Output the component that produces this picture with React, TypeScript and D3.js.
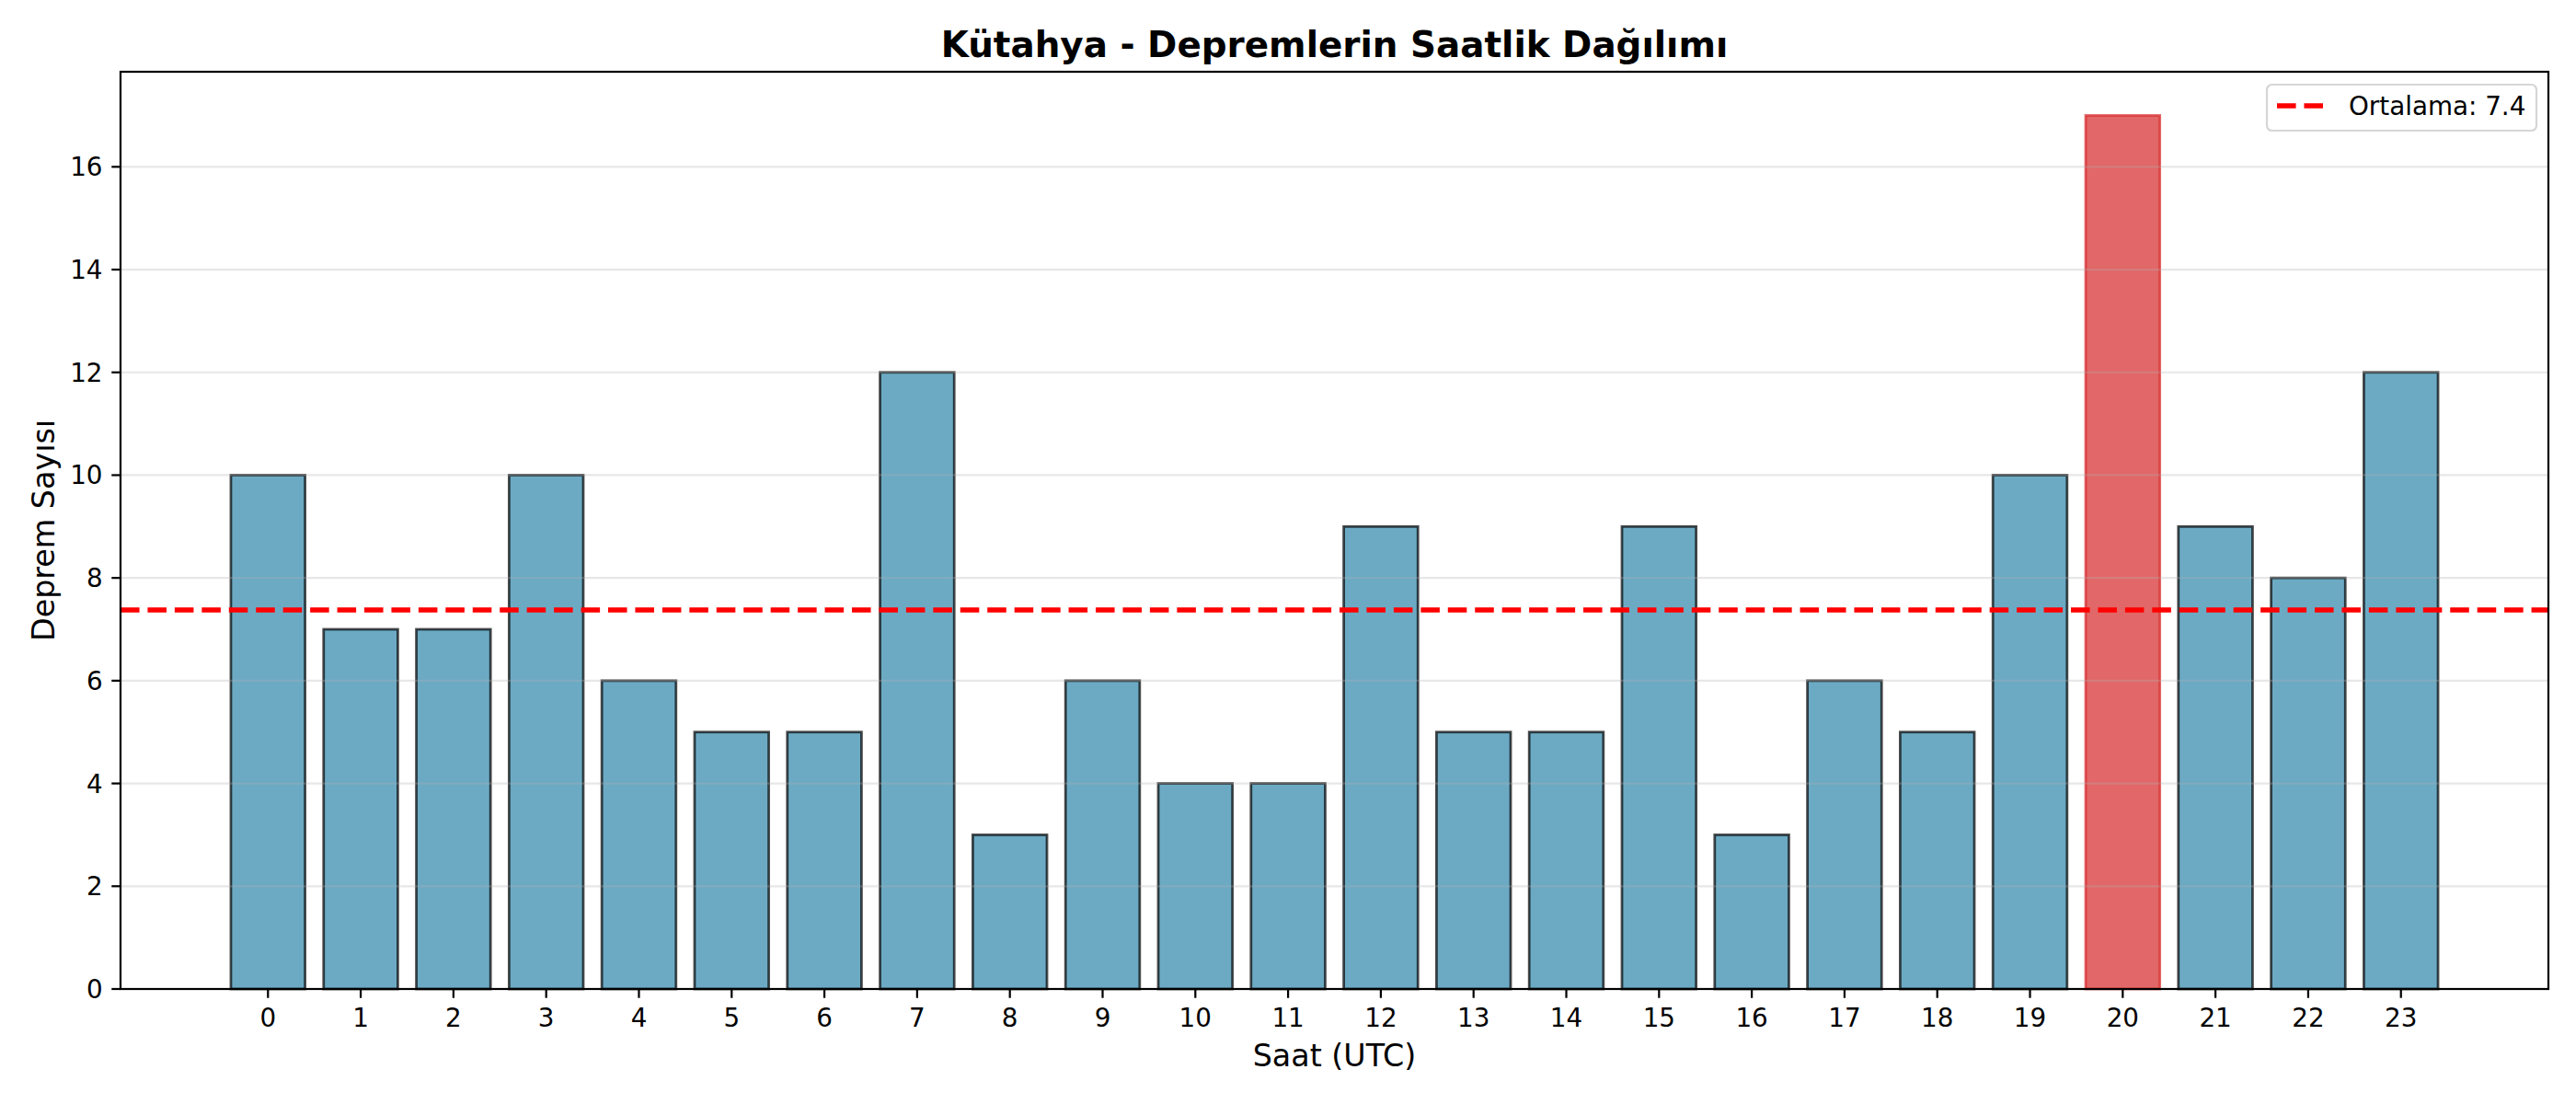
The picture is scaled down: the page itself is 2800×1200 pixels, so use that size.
import React from "react";
import * as d3 from "d3";

const hours: number[] = Array.from({ length: 24 }, (_, i) => i);
const counts: number[] = [10, 7, 7, 10, 6, 5, 5, 12, 3, 6, 4, 4, 9, 5, 5, 9, 3, 6, 5, 10, 17, 9, 8, 12];
const yTicks: number[] = [0, 2, 4, 6, 8, 10, 12, 14, 16];
const title = "Kütahya - Depremlerin Saatlik Dağılımı";
const xLabel = "Saat (UTC)";
const yLabel = "Deprem Sayısı";

const W = 2800;
const H = 1200;
const L = 131;
const R = 2770;
const T = 78;
const B = 1075;
const FONT = "DejaVu Sans, sans-serif";
const PT = 200 / 72;

export default function App() {
  const mean = d3.mean(counts) as number;
  const maxIdx = counts.indexOf(d3.max(counts) as number);
  const barW = 0.8;
  const x0 = -barW / 2;
  const x1 = hours.length - 1 + barW / 2;
  const mx = (x1 - x0) * 0.05;
  const x = d3.scaleLinear().domain([x0 - mx, x1 + mx]).range([L, R]);
  const ymax = (d3.max(counts) as number) * 1.05;
  const y = d3.scaleLinear().domain([0, ymax]).range([B, T]);
  const tickLen = 3.5 * PT;
  const tickPad = 3.5 * PT;
  const tickFs = 10 * PT;

  return (
    <svg width={W} height={H} style={{ position: "absolute", left: 0, top: 0 }} fontFamily={FONT}>
      <rect x={0} y={0} width={W} height={H} fill="#ffffff" />
      {/* bars */}
      {hours.map((h, i) => {
        const isMax = i === maxIdx;
        const c = isMax ? "#d62728" : "#2E86AB";
        const ec = isMax ? "#d62728" : "#000000";
        return (
          <rect
            key={h}
            x={x(h - barW / 2)}
            y={y(counts[i])}
            width={x(h + barW / 2) - x(h - barW / 2)}
            height={y(0) - y(counts[i])}
            fill={c}
            fillOpacity={0.7}
            stroke={ec}
            strokeOpacity={0.7}
            strokeWidth={1 * PT}
          />
        );
      })}
      {/* grid */}
      {yTicks.map((t) => (
        <line key={t} x1={L} x2={R} y1={y(t)} y2={y(t)} stroke="#b0b0b0" strokeOpacity={0.3} strokeWidth={0.8 * PT} />
      ))}
      {/* mean line */}
      <line
        x1={L}
        x2={R}
        y1={y(mean)}
        y2={y(mean)}
        stroke="#ff0000"
        strokeWidth={2 * PT}
        strokeDasharray={`${7.4 * PT} ${3.2 * PT}`}
      />
      {/* spines */}
      <rect x={L} y={T} width={R - L} height={B - T} fill="none" stroke="#000" strokeWidth={0.8 * PT} />
      {/* y ticks */}
      {yTicks.map((t) => (
        <g key={t}>
          <line x1={L - tickLen} x2={L} y1={y(t)} y2={y(t)} stroke="#000" strokeWidth={0.8 * PT} />
          <text x={L - tickLen - tickPad} y={y(t)} dy="0.36em" textAnchor="end" fontSize={tickFs} fill="#000">
            {t}
          </text>
        </g>
      ))}
      {/* x ticks */}
      {hours.map((h) => (
        <g key={h}>
          <line x1={x(h)} x2={x(h)} y1={B} y2={B + tickLen} stroke="#000" strokeWidth={0.8 * PT} />
          <text x={x(h)} y={B + tickLen + tickPad + 0.76 * tickFs} textAnchor="middle" fontSize={tickFs} fill="#000">
            {h}
          </text>
        </g>
      ))}
      {/* axis labels */}
      <text x={(L + R) / 2} y={1159} textAnchor="middle" fontSize={12 * PT} fill="#000">
        {xLabel}
      </text>
      <text
        transform={`translate(59, ${(T + B) / 2}) rotate(-90)`}
        textAnchor="middle"
        fontSize={12 * PT}
        fill="#000"
      >
        {yLabel}
      </text>
      {/* title */}
      <text x={(L + R) / 2} y={62} textAnchor="middle" fontSize={14 * PT} fontWeight="bold" fill="#000">
        {title}
      </text>
      {/* legend */}
      <g>
        <rect x={2464} y={92} width={293} height={50} rx={5.5} ry={5.5} fill="#ffffff" fillOpacity={0.8} stroke="#cccccc" strokeOpacity={0.8} strokeWidth={0.8 * PT} />
        <line
          x1={2475}
          x2={2530}
          y1={115}
          y2={115}
          stroke="#ff0000"
          strokeWidth={2 * PT}
          strokeDasharray={`${7.4 * PT} ${3.2 * PT}`}
        />
        <text x={2553} y={125} fontSize={tickFs} fill="#000">
          {`Ortalama: ${mean.toFixed(1)}`}
        </text>
      </g>
    </svg>
  );
}
